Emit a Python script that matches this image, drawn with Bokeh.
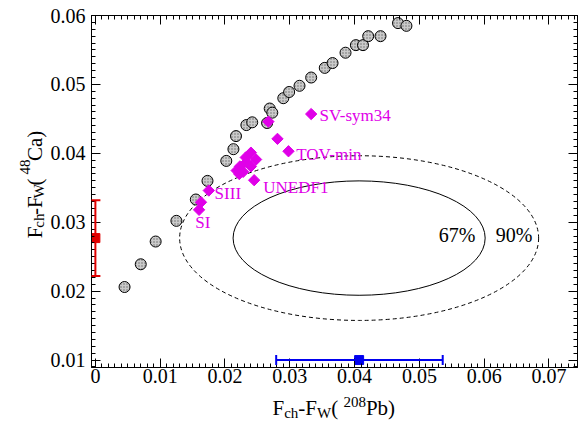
import numpy as np
from bokeh.plotting import figure
from bokeh.layouts import column, row
from bokeh.models import (Range1d, SingleIntervalTicker, LinearAxis, CustomJSTickFormatter,
                          Whisker, TeeHead, ColumnDataSource)
from bokeh.core.properties import value
from bokeh.embed import file_html
from bokeh.resources import INLINE

# ---------------- data ----------------
circ_x = [0.0045, 0.0070, 0.0093, 0.0125, 0.0155, 0.0173, 0.0202, 0.0213, 0.0217, 0.0233,
          0.0242, 0.0265, 0.0269, 0.0273, 0.0290, 0.0299, 0.0315, 0.0333, 0.0354, 0.0366,
          0.0386, 0.0402, 0.0413, 0.0421, 0.0440, 0.0467, 0.0480]
circ_y = [0.0206, 0.0239, 0.0272, 0.0302, 0.0333, 0.0360, 0.0389, 0.0406, 0.0425, 0.0441,
          0.0445, 0.0444, 0.0465, 0.0459, 0.0480, 0.0489, 0.0498, 0.0510, 0.0524, 0.0531,
          0.0546, 0.0557, 0.0557, 0.0570, 0.0570, 0.0589, 0.0585]

dia_x = [0.0160, 0.0163, 0.0175, 0.0218, 0.0222, 0.0223, 0.0228, 0.0232, 0.0233, 0.0240,
         0.0240, 0.0248, 0.0245, 0.0267, 0.0281, 0.0298, 0.0333]
dia_y = [0.0318, 0.0329, 0.0346, 0.0375, 0.0370, 0.0381, 0.0373, 0.0394, 0.0387, 0.0401,
         0.0381, 0.0391, 0.0361, 0.0446, 0.0421, 0.0403, 0.0457]

lab_text = ["SV-sym34", "TOV-min", "UNEDF1", "SIII", "SI"]
lab_x = [0.0346, 0.0310, 0.0259, 0.0184, 0.0154]
lab_y = [0.0455, 0.0399, 0.0350, 0.0342, 0.0299]

pb_x, pb_y, pb_lo, pb_hi = [0.0407], [0.0100], [0.0279], [0.0536]
ca_x, ca_y, ca_lo, ca_hi = [0.0], [0.0277], [0.0222], [0.0332]

ell_cx = [0.0407, 0.0407]
ell_cy = [0.0277, 0.0277]
ell_w = [0.0389, 0.0554]
ell_h = [0.0166, 0.0239]
ell_dash = ["solid", "4 3"]

conf_text = ["67%", "90%"]
conf_x = [0.0530, 0.0618]
conf_y = [0.0282, 0.0282]

x_title = [("F", "n"), ("ch", "sub"), ("-F", "n"), ("W", "sub"), (" (", "n"),
           ("208", "sup"), ("Pb)", "n")]
y_title = [("F", "n"), ("ch", "sub"), ("-F", "n"), ("W", "sub"), (" (", "n"),
           ("48", "sup"), ("Ca)", "n")]

tick_interval = 0.01

# ---------------- styling ----------------
FONT = "Liberation Serif"
MAG = "#e000e8"
RED = "#e00000"
BLUE = "#0000f0"

TOTAL_W, TOTAL_H = 578, 421
YSTRIP_W = 47
TOP_H = 392

p = figure(width=TOTAL_W - YSTRIP_W, height=TOP_H, output_backend="svg", toolbar_location=None,
           x_range=Range1d(-0.0006, 0.0744), y_range=Range1d(0.00892, 0.0600),
           x_axis_type=None, y_axis_type=None,
           min_border_left=89 - YSTRIP_W, min_border_right=1, min_border_top=15,
           min_border_bottom=TOP_H - 367)
p.outline_line_color = "black"
p.outline_line_width = 1
p.background_fill_color = "white"
p.border_fill_color = "white"

fmt_code = "const s = tick.toFixed(2); return (s === '0.00' || s === '-0.00') ? '0' : s;"


def make_axis(show):
    ax = LinearAxis(ticker=SingleIntervalTicker(interval=tick_interval, num_minor_ticks=10),
                    formatter=CustomJSTickFormatter(code=fmt_code if show else "return '';"))
    ax.major_tick_in = 9
    ax.major_tick_out = 0
    ax.minor_tick_in = 4
    ax.minor_tick_out = 0
    ax.axis_line_color = "black"
    ax.major_tick_line_color = "black"
    ax.minor_tick_line_color = "black"
    ax.major_label_text_font = FONT
    ax.major_label_text_color = "black"
    if show:
        ax.major_label_text_font_size = "20px"
    else:
        ax.major_label_text_font_size = "0px"
        ax.major_label_standoff = 0
    return ax


ax_b = make_axis(True)
ax_b.major_label_standoff = 1
ax_l = make_axis(True)
ax_l.major_label_standoff = 6
p.add_layout(ax_b, "below")
p.add_layout(ax_l, "left")
p.add_layout(make_axis(False), "above")
p.add_layout(make_axis(False), "right")

# confidence ellipses
for i in range(2):
    p.ellipse(x=[ell_cx[i]], y=[ell_cy[i]], width=[ell_w[i]], height=[ell_h[i]],
              fill_color=None, line_color="black", line_width=1, line_dash=ell_dash[i])

p.text(x=conf_x, y=conf_y, text=conf_text, text_font=value(FONT), text_font_size="20px",
       text_baseline="middle", text_align="left", text_color="black")

# model points
p.scatter(x=circ_x, y=circ_y, marker="circle", size=11, fill_color="#cacaca",
          hatch_pattern="dot", hatch_color="#6a6a6a", hatch_scale=3, hatch_weight=1,
          line_color="black", line_width=1)
p.scatter(x=dia_x, y=dia_y, marker="square", angle=np.pi / 4, size=8,
          fill_color=MAG, line_color=MAG)

p.text(x=lab_x, y=lab_y, text=lab_text, text_font=value(FONT), text_font_size="17px",
       text_baseline="middle", text_align="left", text_color=MAG)

# measurements with error bars
ca_src = ColumnDataSource(dict(x=ca_x, y=ca_y, lo=ca_lo, hi=ca_hi))
pb_src = ColumnDataSource(dict(x=pb_x, y=pb_y, lo=pb_lo, hi=pb_hi))

p.add_layout(Whisker(source=ca_src, base="x", lower="lo", upper="hi", dimension="height",
                     line_color=RED, line_width=2, level="overlay",
                     upper_head=TeeHead(size=10, line_color=RED, line_width=2),
                     lower_head=TeeHead(size=10, line_color=RED, line_width=2)))
p.add_layout(Whisker(source=pb_src, base="y", lower="lo", upper="hi", dimension="width",
                     line_color=BLUE, line_width=2, level="overlay",
                     upper_head=TeeHead(size=10, line_color=BLUE, line_width=2),
                     lower_head=TeeHead(size=10, line_color=BLUE, line_width=2)))
p.scatter(x="x", y="y", source=ca_src, marker="square", size=9, fill_color=RED, line_color=RED)
p.scatter(x="x", y="y", source=pb_src, marker="square", size=9, fill_color=BLUE, line_color=BLUE)

# ---------------- axis titles (with sub/superscripts), in pixel-unit strips ----------------
ADV = {"F": 0.556, "c": 0.444, "h": 0.5, "-": 0.333, "W": 0.944, " ": 0.25, "(": 0.333,
       "2": 0.5, "0": 0.5, "8": 0.5, "4": 0.5, "P": 0.556, "b": 0.5, ")": 0.333,
       "C": 0.667, "a": 0.444}
MAIN, SMALL = 21, 15
MID = 0.33  # distance from baseline to the visual middle, in em


def tw(s, size):
    return sum(ADV[c] for c in s) * size


def strip(w, h):
    f = figure(width=w, height=h, output_backend="svg", toolbar_location=None,
               x_range=Range1d(0, w), y_range=Range1d(0, h),
               x_axis_type=None, y_axis_type=None,
               min_border=0, min_border_left=0, min_border_right=0,
               min_border_top=0, min_border_bottom=0)
    f.outline_line_color = None
    f.background_fill_color = "white"
    f.border_fill_color = "white"
    return f


def title(f, pieces, start, base, vertical, drop, raise_):
    pos = start
    for txt, kind in pieces:
        size = MAIN if kind == "n" else SMALL
        off = 0 if kind == "n" else (-drop if kind == "sub" else raise_)
        up = off + MID * size
        if vertical:
            lx, ly, ang = base - up, pos, np.pi / 2
        else:
            lx, ly, ang = pos, base + up, 0
        f.text(x=[lx], y=[ly], text=[txt], angle=ang, text_font=value(FONT),
               text_font_size=f"{size}px", text_baseline="middle", text_align="left",
               text_color="black")
        pos += tw(txt, size)


ystrip = strip(YSTRIP_W, TOP_H)
title(ystrip, y_title, start=TOP_H - 248, base=41.5, vertical=True, drop=2, raise_=12)

xstrip = strip(TOTAL_W, TOTAL_H - TOP_H)
title(xstrip, x_title, start=272, base=TOTAL_H - 414, vertical=False, drop=3, raise_=8)

layout = column(row(ystrip, p, spacing=0), xstrip, spacing=0)

open("out.html", "w").write(file_html(layout, INLINE))
